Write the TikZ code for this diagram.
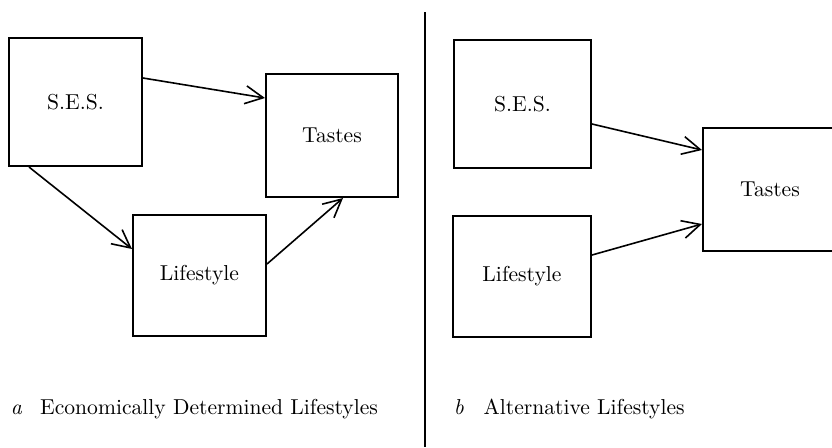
\documentclass[tikz,border=0pt]{standalone}
\usetikzlibrary{arrows.meta}
\begin{document}
\begin{tikzpicture}[x=0.5pt,y=-0.5pt,line width=0.8pt,
  every node/.style={font=\fontsize{10.8}{13}\selectfont},
  box/.style 2 args={draw,line width=1pt,inner sep=0pt,
    minimum width=#1*0.5pt,minimum height=#2*0.5pt},
  link/.style={-{Straight Barb[length=9pt,width=9pt]}},
  caption/.style={anchor=base west,inner sep=0pt}]

\clip (0,0) rectangle (832,447);

% a: economically determined lifestyles
\node[box={133}{128}] (sesA)   at (75.5,102)   {S.E.S.};
\node[box={132}{123}] (tastesA) at (332,135.5) {Tastes};
\node[box={133}{121}] (lifeA)  at (199.5,275.5) {Lifestyle};

\draw[link] ([yshift=12pt]sesA.east) -- ([yshift=18.75pt]tastesA.west);
\draw[link] ([xshift=-23.25pt]sesA.south) -- ([yshift=13.25pt]lifeA.west);
\draw[link] ([yshift=5.75pt]lifeA.east) -- ([xshift=5.5pt]tastesA.south);

\node[caption] (capA) at (10,414) {\textit{a}\hspace{9pt}Economically Determined Lifestyles};

% divider
\coordinate (top) at (425,12);
\coordinate (bot) at (425,447);
\draw[line width=1pt] (top) -- (bot);

% b: alternative lifestyles
\node[box={137}{128}] (sesB)   at (522.5,104)   {S.E.S.};
\node[box={138}{121}] (lifeB)  at (522,276.5)   {Lifestyle};
\node[box={134}{123}] (tastesB) at (770,189.5) {Tastes};

\draw[link] ([yshift=-10pt]sesB.east) -- ([yshift=19.75pt]tastesB.west);
\draw[link] ([yshift=10.75pt]lifeB.east) -- ([yshift=-17.25pt]tastesB.west);

\node[caption] (capB) at (453,414) {\textit{b}\hspace{10pt}Alternative Lifestyles};

\end{tikzpicture}
\end{document}
